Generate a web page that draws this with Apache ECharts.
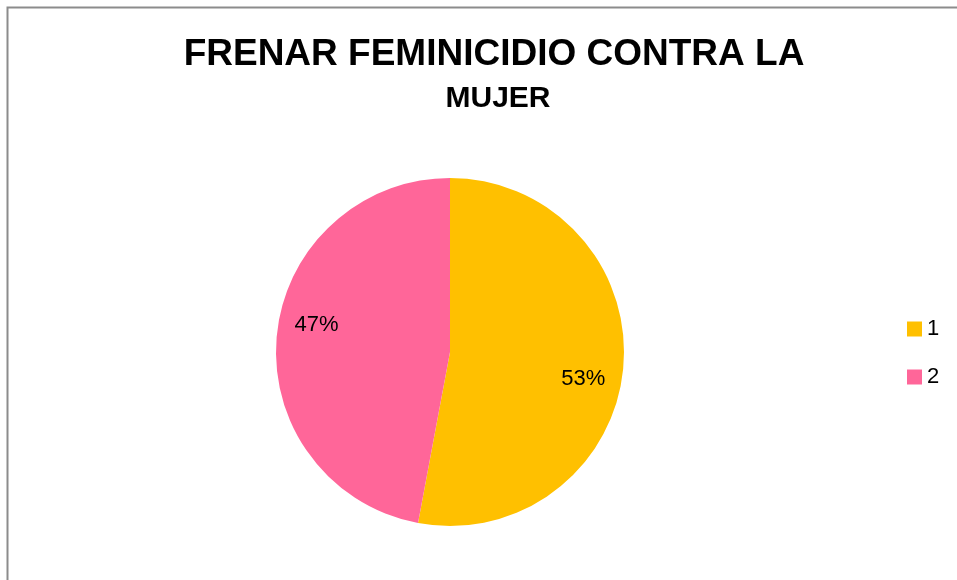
<!DOCTYPE html>
<html>
<head>
<meta charset="utf-8">
<script src="https://cdn.jsdelivr.net/npm/echarts@6/dist/echarts.min.js"></script>
<style>
  html, body { margin: 0; padding: 0; background: #fff; }
  #main { width: 957px; height: 580px; }
</style>
</head>
<body>
<div id="main"></div>
<script>
// datos del grafico
var categories = ['1', '2'];
var values = [9, 8];
var colors = ['#FFC000', '#FF6699'];

var chart = echarts.init(document.getElementById('main'));

var pieData = categories.map(function (c, i) {
  return { name: c, value: values[i], itemStyle: { color: colors[i] } };
});

var option = {
  animation: false,
  title: [
    {
      text: 'FRENAR FEMINICIDIO CONTRA LA',
      left: 489, top: 31, textAlign: 'center',
      textStyle: { fontFamily: 'Liberation Sans', fontWeight: 'bold', fontSize: 37, color: '#000' }
    },
    {
      text: 'MUJER',
      left: 493, top: 79, textAlign: 'center',
      textStyle: { fontFamily: 'Liberation Sans', fontWeight: 'bold', fontSize: 30, color: '#000' }
    }
  ],
  legend: {
    orient: 'vertical',
    left: 902, top: 313,
    itemWidth: 15, itemHeight: 15,
    itemGap: 26,
    icon: 'rect',
    textStyle: { fontFamily: 'Liberation Sans', fontSize: 22, color: '#000' },
    data: categories
  },
  graphic: [{
    type: 'rect',
    shape: { x: 7.5, y: 7.5, width: 1000, height: 1000 },
    style: { fill: 'none', stroke: '#8c8c8c', lineWidth: 2 },
    silent: true
  }],
  series: [
    {
      type: 'pie',
      center: [450, 352],
      radius: [0, 174],
      startAngle: 90,
      clockwise: true,
      label: { show: false },
      labelLine: { show: false },
      data: pieData
    },
    {
      // serie transparente solo para ubicar las etiquetas
      type: 'pie',
      center: [450, 352],
      radius: [0, 266],
      startAngle: 84,
      clockwise: true,
      silent: true,
      legendHoverLink: false,
      itemStyle: { color: 'rgba(0,0,0,0)' },
      label: {
        show: true,
        position: 'inside',
        formatter: function (p) { return Math.round(p.percent) + '%'; },
        fontFamily: 'Liberation Sans', fontSize: 22, color: '#000'
      },
      labelLine: { show: false },
      data: categories.map(function (c, i) { return { name: c, value: values[i] }; })
    }
  ]
};

chart.setOption(option);
window.onresize = chart.resize;
</script>
</body>
</html>
